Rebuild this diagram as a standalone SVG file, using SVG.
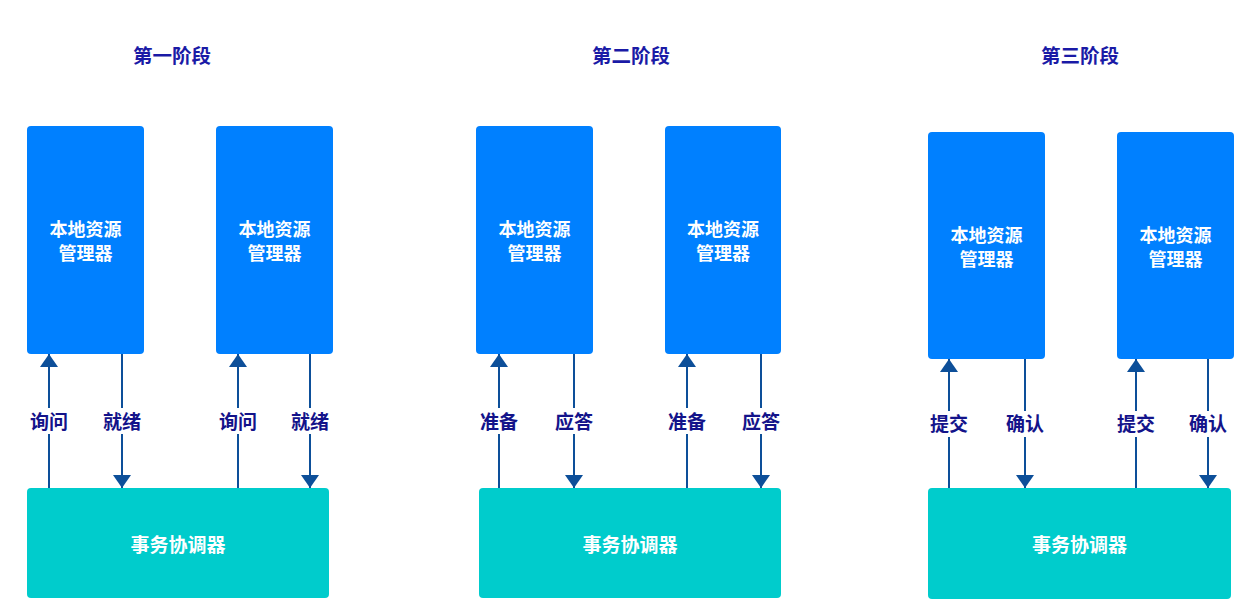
<svg xmlns="http://www.w3.org/2000/svg" width="1249" height="616" viewBox="0 0 1249 616">
<defs>
<style>
.rm{fill:#0080ff}
.co{fill:#00cccc}
.t{font-family:"Noto Sans CJK SC","Noto Sans",sans-serif;font-weight:bold}
.title{font-size:19.5px;fill:#1a1aa6;text-anchor:middle}
.wt{font-family:"Liberation Sans","Noto Sans CJK SC",sans-serif;font-size:18px;fill:#ffffff;text-anchor:middle}
.ct{font-size:19px;fill:#ffffff;text-anchor:middle}
.lb{font-size:19px;fill:#13138a;text-anchor:middle}
.ln{stroke:#0d4f99;stroke-width:2;fill:none}
</style>
<marker id="ah" viewBox="0 0 13 18" refX="13" refY="9" markerWidth="13" markerHeight="18" markerUnits="userSpaceOnUse" orient="auto">
<path d="M0,0 L13,9 L0,18 Z" fill="#0d4f99"/>
</marker>
</defs>
<rect width="1249" height="616" fill="#ffffff"/>
<g id="titles">
<text class="t title" x="172" y="63">第一阶段</text>
<text class="t title" x="631" y="63">第二阶段</text>
<text class="t title" x="1080" y="63">第三阶段</text>
</g>
<g id="p1-rm1"><rect class="rm" x="27" y="126" width="117" height="228" rx="4"/><text class="t wt"><tspan x="85.5" y="236">本地资源</tspan><tspan x="85.5" y="260">管理器</tspan></text></g>
<g id="p1-rm2"><rect class="rm" x="216" y="126" width="117" height="228" rx="4"/><text class="t wt"><tspan x="274.5" y="236">本地资源</tspan><tspan x="274.5" y="260">管理器</tspan></text></g>
<g id="p1-co"><rect class="co" x="27" y="488" width="302" height="110" rx="4"/><text class="t ct" x="178" y="552">事务协调器</text></g>
<g id="p2-rm1"><rect class="rm" x="476" y="126" width="117" height="228" rx="4"/><text class="t wt"><tspan x="534.5" y="236">本地资源</tspan><tspan x="534.5" y="260">管理器</tspan></text></g>
<g id="p2-rm2"><rect class="rm" x="665" y="126" width="116" height="228" rx="4"/><text class="t wt"><tspan x="723" y="236">本地资源</tspan><tspan x="723" y="260">管理器</tspan></text></g>
<g id="p2-co"><rect class="co" x="479" y="488" width="302" height="110" rx="4"/><text class="t ct" x="630" y="552">事务协调器</text></g>
<g id="p3-rm1"><rect class="rm" x="928" y="132" width="117" height="227" rx="4"/><text class="t wt"><tspan x="986.5" y="242">本地资源</tspan><tspan x="986.5" y="266">管理器</tspan></text></g>
<g id="p3-rm2"><rect class="rm" x="1117" y="132" width="117" height="227" rx="4"/><text class="t wt"><tspan x="1175.5" y="242">本地资源</tspan><tspan x="1175.5" y="266">管理器</tspan></text></g>
<g id="p3-co"><rect class="co" x="928" y="488" width="303" height="111" rx="4"/><text class="t ct" x="1079.5" y="552">事务协调器</text></g>
<g id="connectors">
<path class="ln" d="M49,488 V434 M49,408 V354" marker-end="url(#ah)"/>
<path class="ln" d="M49,488 V434"/>
<path class="ln" d="M122,354 V408 M122,434 V488" marker-end="url(#ah)"/>
<path class="ln" d="M238,488 V434 M238,408 V354" marker-end="url(#ah)"/>
<path class="ln" d="M238,488 V434"/>
<path class="ln" d="M310,354 V408 M310,434 V488" marker-end="url(#ah)"/>
<path class="ln" d="M499,488 V434 M499,408 V354" marker-end="url(#ah)"/>
<path class="ln" d="M574,354 V408 M574,434 V488" marker-end="url(#ah)"/>
<path class="ln" d="M687,488 V434 M687,408 V354" marker-end="url(#ah)"/>
<path class="ln" d="M761,354 V408 M761,434 V488" marker-end="url(#ah)"/>
<path class="ln" d="M949,488 V437 M949,411 V359" marker-end="url(#ah)"/>
<path class="ln" d="M1025,359 V411 M1025,437 V488" marker-end="url(#ah)"/>
<path class="ln" d="M1136,488 V437 M1136,411 V359" marker-end="url(#ah)"/>
<path class="ln" d="M1208,359 V411 M1208,437 V488" marker-end="url(#ah)"/>
<text class="t lb" x="49" y="429">询问</text>
<text class="t lb" x="122" y="429">就绪</text>
<text class="t lb" x="238" y="429">询问</text>
<text class="t lb" x="310" y="429">就绪</text>
<text class="t lb" x="499" y="429">准备</text>
<text class="t lb" x="574" y="429">应答</text>
<text class="t lb" x="687" y="429">准备</text>
<text class="t lb" x="761" y="429">应答</text>
<text class="t lb" x="949" y="431">提交</text>
<text class="t lb" x="1025" y="431">确认</text>
<text class="t lb" x="1136" y="431">提交</text>
<text class="t lb" x="1208" y="431">确认</text>
</g>
</svg>
